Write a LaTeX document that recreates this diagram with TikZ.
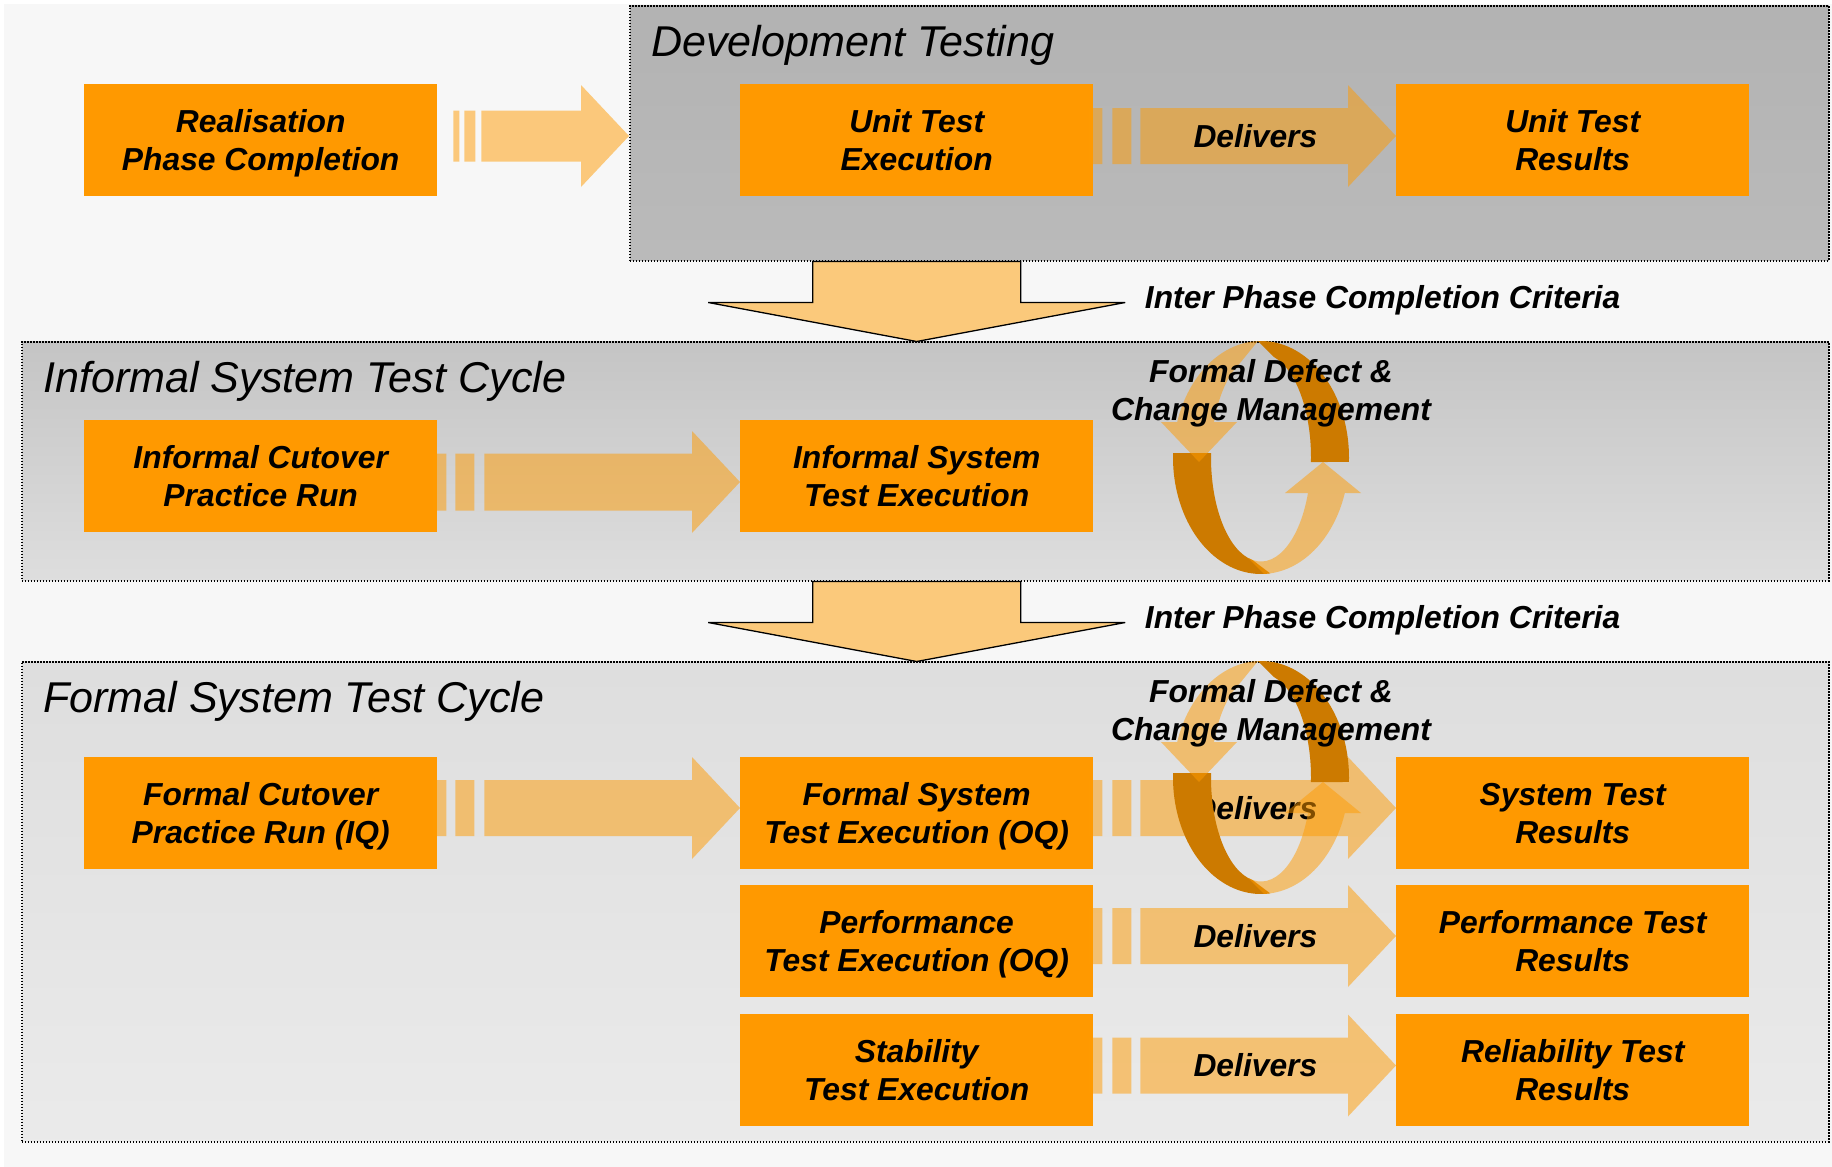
\documentclass[tikz,border=0pt]{standalone}
\usepackage{fontspec}
\usetikzlibrary{calc}
\newfontfamily\arialfam{Liberation Sans}
\newcommand\lblfont{\arialfam\bfseries\itshape\fontsize{31.8pt}{38pt}\selectfont}
\newcommand\titlefont{\arialfam\itshape\fontsize{43.1pt}{50pt}\selectfont}
% two-line box text with fixed line heights
\newcommand\twolines[2]{\rule{0pt}{30pt}#1\\#2\rule[-8pt]{0pt}{8pt}}

\definecolor{boxorange}{HTML}{FF9900}
\definecolor{floworange}{HTML}{FF9B00}
\definecolor{cycdark}{HTML}{CC7A00}
\definecolor{pagebg}{HTML}{F7F7F7}
\definecolor{downfill}{HTML}{FBC97B}

\tikzset{
  stagebox/.style={fill=boxorange, draw=none, inner sep=0pt, anchor=north west,
    minimum width=353pt, minimum height=112pt, align=center, font=\lblfont},
  lbl/.style={font=\lblfont, inner sep=0pt},
  paneltitle/.style={font=\titlefont, inner sep=0pt, anchor=base west},
  phasepanel/.style={draw=black, line width=1.5pt, dash pattern=on 1.5pt off 1.5pt,
    inner sep=0pt, anchor=north west},
  flow/.style={fill=floworange, fill opacity=0.5, draw=none},
  cycback/.style={fill=cycdark, draw=none},
  phasearrow/.style={fill=downfill, draw=black, line width=1.3pt, line join=miter},
}

% striped block arrow between two nodes
% #1 source, #2 target, #3 axis drop below source top,
% #4/#5 first stripe, #6/#7 second stripe, #8 body start (after source edge), #9 body half height
\newcommand\flowarrow[9]{%
  \fill[flow] let \p1=(#1.north east), \p2=(#2.west) in
    (\x1+#4pt,\y1-#3pt+#9pt) rectangle (\x1+#5pt,\y1-#3pt-#9pt)
    (\x1+#6pt,\y1-#3pt+#9pt) rectangle (\x1+#7pt,\y1-#3pt-#9pt)
    (\x1+#8pt,\y1-#3pt+#9pt) -- (\x2-48pt,\y1-#3pt+#9pt) -- (\x2-48pt,\y1-#3pt+51pt)
    -- (\x2,\y1-#3pt) -- (\x2-48pt,\y1-#3pt-51pt) -- (\x2-48pt,\y1-#3pt-#9pt)
    -- (\x1+#8pt,\y1-#3pt-#9pt) -- cycle;}

% two curved arrows forming a loop, as a twisted ribbon
\newcommand\defectcycle[1]{%
  \begin{scope}[shift={#1}]
    \fill[cycback] (182.21:88 and 116.5)
      arc[start angle=182.21, end angle=84, x radius=88, y radius=116.5]
      -- (100:50 and 104)
      arc[start angle=100, end angle=182.48, x radius=50, y radius=104] -- cycle;
    \fill[cycback] (2.21:88 and 116.5)
      arc[start angle=2.21, end angle=-92, x radius=88, y radius=116.5]
      -- (-75:50 and 104)
      arc[start angle=-75, end angle=2.48, x radius=50, y radius=104] -- cycle;
    \fill[flow] (88:88 and 116.5)
      arc[start angle=88, end angle=17.74, x radius=88, y radius=116.5]
      -- (100,35.5) -- (62,4.5) -- (24,35.5) -- (47,35.5)
      arc[start angle=19.96, end angle=105, x radius=50, y radius=104] -- cycle;
    \fill[flow] (-92:88 and 116.5)
      arc[start angle=-92, end angle=-162.26, x radius=88, y radius=116.5]
      -- (-100,-35.5) -- (-62,4.5) -- (-24,-35.5) -- (-47,-35.5)
      arc[start angle=-160.04, end angle=-115, x radius=50, y radius=104] -- cycle;
  \end{scope}}

\begin{document}
\begin{tikzpicture}[x=1pt, y=-1pt]
  \useasboundingbox (0,0) rectangle (1832,1167);
  \fill[white] (0,0) rectangle (1832,1167);
  \fill[pagebg] (4,4) rectangle (1832,1167);

  % phase panels
  \node[phasepanel, minimum width=1199pt, minimum height=255pt,
        top color=black!30, bottom color=black!27] (dev) at (629,5) {};
  \node[phasepanel, minimum width=1807pt, minimum height=239pt,
        top color=black!23, bottom color=black!13] (inf) at (21,341) {};
  \node[phasepanel, minimum width=1807pt, minimum height=480pt,
        top color=black!13, bottom color=black!8] (frm) at (21,661) {};

  \node[paneltitle] (devt) at ($(dev.north west)+(22,51)$) {Development Testing};
  \node[paneltitle] (inft) at ($(inf.north west)+(22,51)$) {Informal System Test Cycle};
  \node[paneltitle] (frmt) at ($(frm.north west)+(22,51)$) {Formal System Test Cycle};

  % stage boxes
  \node[stagebox] (real) at (84,84)    {\twolines{Realisation}{Phase Completion}};
  \node[stagebox] (ute)  at (740,84)   {\twolines{Unit Test}{Execution}};
  \node[stagebox] (utr)  at (1396,84)  {\twolines{Unit Test}{Results}};
  \node[stagebox] (icr)  at (84,420)   {\twolines{Informal Cutover}{Practice Run}};
  \node[stagebox] (iste) at (740,420)  {\twolines{Informal System}{Test Execution}};
  \node[stagebox] (fcr)  at (84,757)   {\twolines{Formal Cutover}{Practice Run (IQ)}};
  \node[stagebox] (fste) at (740,757)  {\twolines{Formal System}{Test Execution (OQ)}};
  \node[stagebox] (str)  at (1396,757) {\twolines{System Test}{Results}};
  \node[stagebox] (pte)  at (740,885)  {\twolines{Performance}{Test Execution (OQ)}};
  \node[stagebox] (ptr)  at (1396,885) {\twolines{Performance Test}{Results}};
  \node[stagebox] (ste)  at (740,1014) {\twolines{Stability}{Test Execution}};
  \node[stagebox] (rtr)  at (1396,1014){\twolines{Reliability Test}{Results}};

  % striped flow arrows
  \flowarrow{real}{dev}{52}{16}{22}{27}{38}{44}{25.5}
  \flowarrow{ute}{utr}{52}{-5}{9}{19}{38}{47}{28}
  \flowarrow{icr}{iste}{62}{-5}{9}{18}{37}{47}{28.5}
  \flowarrow{fcr}{fste}{51}{-5}{9}{18}{37}{47}{28}
  \flowarrow{fste}{str}{51}{-5}{9}{19}{38}{47}{28}
  \flowarrow{pte}{ptr}{51}{-5}{9}{19}{38}{47}{28}
  \flowarrow{ste}{rtr}{51.5}{-5}{9}{19}{38}{47}{28}

  \node[lbl] (dl1) at ($(ute.north east)+(162,52)$)  {Delivers};
  \node[lbl] (dl2) at ($(fste.north east)+(162,51)$) {Delivers};
  \node[lbl] (dl3) at ($(pte.north east)+(162,51)$)  {Delivers};
  \node[lbl] (dl4) at ($(ste.north east)+(162,51.5)$) {Delivers};

  % inter phase arrows
  \coordinate (d1) at (ute.south |- dev.south);
  \coordinate (d2) at (ute.south |- inf.south);
  \foreach \d in {d1,d2}{
    \draw[phasearrow] ($(\d)+(-104,0)$) -- ($(\d)+(-104,41)$) -- ($(\d)+(-208.5,41)$)
      -- ($(\d)+(0,80)$) -- ($(\d)+(208.5,41)$) -- ($(\d)+(104,41)$)
      -- ($(\d)+(104,0)$) -- cycle;
  }
  \node[lbl, anchor=base west] (ipc1) at ($(d1)+(228,47)$) {Inter Phase Completion Criteria};
  \node[lbl, anchor=base west] (ipc2) at ($(d2)+(228,47)$) {Inter Phase Completion Criteria};

  % defect and change management loops
  \defectcycle{(1261,457.5)}
  \defectcycle{(1261,777.5)}
  \node[lbl, align=center] (fdc1) at (1271,393.5) {Formal Defect \&\\Change Management};
  \node[lbl, align=center] (fdc2) at (1271,713.5) {Formal Defect \&\\Change Management};
\end{tikzpicture}
\end{document}
